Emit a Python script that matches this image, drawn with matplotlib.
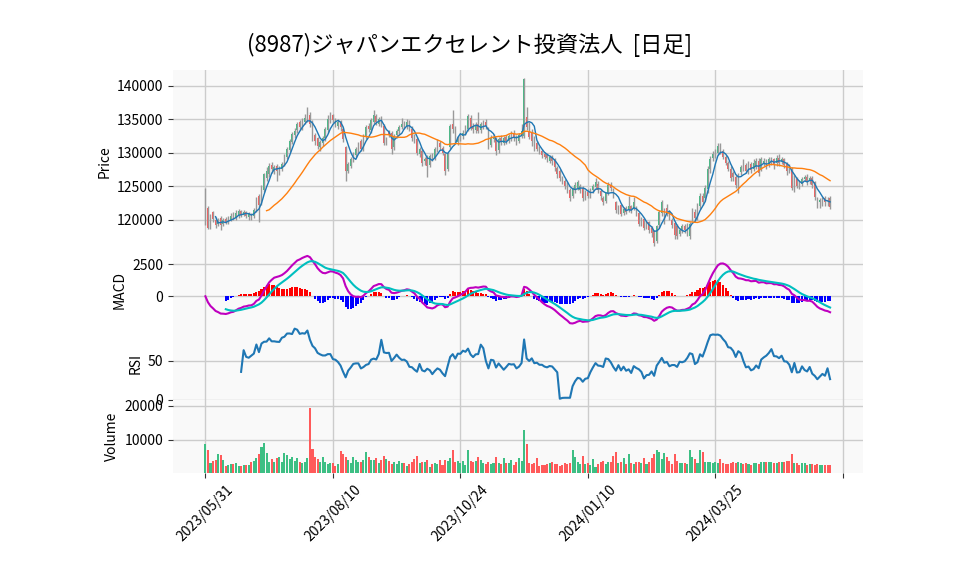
import numpy as np
import pandas as pd
import matplotlib
matplotlib.use("Agg")
import matplotlib.pyplot as plt

plt.rcParams['font.family'] = ['Noto Sans CJK JP', 'DejaVu Sans']

TITLE = "(8987)ジャパンエクセレント投資法人  [日足]"
TICK_POS = [0, 50, 100, 150, 200, 250]
TICK_LABELS = ["2023/05/31", "2023/08/10", "2023/10/24", "2024/01/10", "2024/03/25", ""]

# daily prices, in units of 100 yen
OPEN = [
    1201, 1218, 1189, 1211, 1200, 1193, 1203, 1193, 1201, 1197,
    1200, 1207, 1202, 1206, 1213, 1207, 1211, 1204, 1208, 1205,
    1214, 1236, 1224, 1245, 1262, 1268, 1282, 1273, 1280, 1270,
    1276, 1283, 1293, 1304, 1316, 1326, 1334, 1345, 1337, 1346,
    1350, 1356, 1346, 1326, 1322, 1308, 1314, 1322, 1334, 1348,
    1356, 1349, 1340, 1346, 1335, 1308, 1273, 1280, 1289, 1297,
    1304, 1318, 1306, 1324, 1340, 1334, 1346, 1354, 1343, 1352,
    1340, 1316, 1332, 1330, 1308, 1326, 1332, 1338, 1343, 1340,
    1345, 1336, 1325, 1320, 1298, 1302, 1287, 1292, 1282, 1297,
    1292, 1304, 1315, 1307, 1298, 1275, 1308, 1342, 1336, 1316,
    1321, 1325, 1331, 1336, 1352, 1340, 1334, 1342, 1334, 1341,
    1346, 1336, 1311, 1320, 1320, 1304, 1322, 1315, 1323, 1318,
    1324, 1330, 1324, 1318, 1325, 1325, 1353, 1333, 1330, 1320,
    1315, 1308, 1303, 1298, 1296, 1287, 1294, 1290, 1277, 1273,
    1262, 1258, 1252, 1244, 1236, 1244, 1248, 1244, 1248, 1233,
    1242, 1236, 1244, 1249, 1254, 1243, 1233, 1228, 1240, 1252,
    1245, 1226, 1212, 1222, 1210, 1217, 1214, 1220, 1216, 1217,
    1210, 1194, 1201, 1190, 1196, 1188, 1183, 1168, 1192, 1210,
    1198, 1218, 1213, 1200, 1195, 1190, 1178, 1184, 1191, 1180,
    1176, 1201, 1212, 1204, 1220, 1236, 1232, 1246, 1275, 1292,
    1296, 1300, 1311, 1302, 1294, 1284, 1276, 1270, 1264, 1246,
    1271, 1286, 1281, 1272, 1283, 1276, 1278, 1288, 1276, 1283,
    1287, 1283, 1286, 1290, 1284, 1292, 1286, 1290, 1283, 1280,
    1276, 1246, 1261, 1256, 1253, 1261, 1264, 1258, 1262, 1256,
    1230, 1226, 1226, 1232, 1230, 1232,
]
HIGH = [
    1247, 1220, 1208, 1213, 1204, 1202, 1205, 1203, 1204, 1206,
    1210, 1212, 1214, 1216, 1215, 1214, 1213, 1211, 1210, 1217,
    1234, 1238, 1252, 1270, 1278, 1284, 1286, 1282, 1283, 1280,
    1286, 1298, 1308, 1321, 1331, 1337, 1346, 1348, 1352, 1358,
    1368, 1360, 1348, 1330, 1324, 1319, 1325, 1338, 1356, 1360,
    1358, 1352, 1350, 1348, 1338, 1310, 1286, 1294, 1301, 1309,
    1316, 1320, 1328, 1341, 1344, 1351, 1363, 1358, 1353, 1355,
    1343, 1324, 1334, 1333, 1328, 1336, 1341, 1351, 1347, 1350,
    1348, 1340, 1328, 1324, 1308, 1306, 1294, 1296, 1298, 1300,
    1308, 1320, 1318, 1310, 1300, 1301, 1343, 1363, 1340, 1325,
    1330, 1334, 1341, 1358, 1356, 1344, 1345, 1361, 1346, 1349,
    1350, 1338, 1326, 1328, 1323, 1324, 1326, 1325, 1326, 1328,
    1332, 1334, 1327, 1330, 1342, 1412, 1368, 1345, 1336, 1325,
    1318, 1310, 1306, 1301, 1300, 1297, 1296, 1292, 1280, 1276,
    1265, 1260, 1256, 1248, 1249, 1256, 1259, 1254, 1250, 1244,
    1246, 1248, 1253, 1262, 1257, 1246, 1236, 1242, 1256, 1256,
    1248, 1228, 1222, 1224, 1219, 1220, 1235, 1222, 1234, 1220,
    1212, 1204, 1203, 1198, 1198, 1190, 1185, 1192, 1215, 1229,
    1218, 1224, 1215, 1203, 1197, 1193, 1188, 1194, 1194, 1195,
    1197, 1217, 1216, 1225, 1240, 1240, 1252, 1280, 1295, 1302,
    1306, 1315, 1314, 1306, 1297, 1288, 1280, 1273, 1267, 1269,
    1281, 1290, 1284, 1287, 1286, 1290, 1292, 1292, 1294, 1292,
    1290, 1294, 1293, 1292, 1296, 1298, 1293, 1292, 1286, 1283,
    1279, 1266, 1264, 1259, 1264, 1267, 1268, 1265, 1265, 1258,
    1234, 1233, 1234, 1235, 1234, 1235,
]
LOW = [
    1192, 1186, 1186, 1196, 1188, 1190, 1184, 1190, 1193, 1194,
    1198, 1199, 1200, 1203, 1204, 1205, 1202, 1200, 1200, 1202,
    1212, 1196, 1222, 1242, 1258, 1264, 1270, 1268, 1258, 1266,
    1272, 1280, 1290, 1301, 1313, 1322, 1330, 1334, 1334, 1342,
    1346, 1338, 1318, 1312, 1305, 1303, 1310, 1318, 1330, 1344,
    1344, 1338, 1336, 1333, 1316, 1258, 1270, 1277, 1286, 1294,
    1300, 1302, 1303, 1320, 1331, 1330, 1343, 1341, 1340, 1338,
    1312, 1312, 1324, 1298, 1304, 1322, 1328, 1335, 1336, 1336,
    1332, 1318, 1314, 1296, 1294, 1280, 1282, 1264, 1278, 1288,
    1289, 1301, 1304, 1296, 1266, 1272, 1305, 1330, 1314, 1312,
    1317, 1321, 1327, 1332, 1334, 1330, 1330, 1329, 1330, 1336,
    1336, 1306, 1308, 1316, 1297, 1300, 1312, 1312, 1313, 1314,
    1318, 1318, 1312, 1314, 1322, 1322, 1334, 1320, 1310, 1303,
    1303, 1298, 1292, 1290, 1286, 1284, 1282, 1272, 1262, 1258,
    1253, 1246, 1240, 1228, 1233, 1240, 1244, 1240, 1228, 1229,
    1232, 1232, 1240, 1246, 1240, 1230, 1222, 1225, 1237, 1243,
    1233, 1210, 1208, 1205, 1207, 1208, 1212, 1210, 1214, 1205,
    1190, 1190, 1184, 1186, 1180, 1174, 1161, 1166, 1188, 1206,
    1194, 1206, 1200, 1188, 1172, 1171, 1175, 1180, 1180, 1176,
    1172, 1198, 1198, 1200, 1216, 1222, 1228, 1240, 1270, 1288,
    1292, 1296, 1298, 1290, 1282, 1272, 1258, 1258, 1248, 1240,
    1266, 1272, 1270, 1268, 1270, 1272, 1275, 1265, 1272, 1280,
    1275, 1278, 1282, 1276, 1280, 1280, 1283, 1277, 1266, 1270,
    1244, 1242, 1248, 1246, 1250, 1258, 1252, 1254, 1248, 1230,
    1218, 1218, 1220, 1221, 1220, 1216,
]
CLOSE = [
    1246, 1188, 1196, 1201, 1192, 1199, 1192, 1200, 1196, 1203,
    1206, 1201, 1210, 1213, 1207, 1212, 1205, 1208, 1203, 1215,
    1232, 1222, 1250, 1268, 1272, 1280, 1276, 1279, 1272, 1276,
    1283, 1295, 1305, 1318, 1328, 1333, 1342, 1338, 1348, 1352,
    1357, 1342, 1322, 1318, 1310, 1316, 1322, 1335, 1350, 1355,
    1348, 1342, 1345, 1338, 1320, 1272, 1283, 1291, 1298, 1306,
    1312, 1305, 1325, 1338, 1335, 1348, 1356, 1345, 1350, 1342,
    1315, 1320, 1328, 1306, 1325, 1333, 1338, 1342, 1340, 1346,
    1335, 1322, 1318, 1300, 1305, 1285, 1290, 1280, 1295, 1292,
    1305, 1316, 1308, 1300, 1272, 1298, 1340, 1335, 1318, 1322,
    1326, 1330, 1338, 1354, 1338, 1335, 1340, 1333, 1342, 1345,
    1340, 1310, 1322, 1324, 1302, 1320, 1316, 1322, 1318, 1325,
    1328, 1322, 1318, 1326, 1333, 1410, 1338, 1324, 1318, 1307,
    1306, 1300, 1296, 1293, 1292, 1294, 1287, 1278, 1268, 1262,
    1258, 1250, 1245, 1232, 1246, 1252, 1256, 1250, 1232, 1240,
    1236, 1245, 1250, 1256, 1244, 1235, 1226, 1240, 1252, 1248,
    1236, 1214, 1218, 1208, 1216, 1212, 1221, 1214, 1226, 1209,
    1194, 1200, 1188, 1195, 1185, 1180, 1166, 1190, 1212, 1226,
    1213, 1210, 1203, 1192, 1177, 1176, 1185, 1190, 1184, 1192,
    1194, 1214, 1202, 1222, 1236, 1226, 1248, 1276, 1291, 1298,
    1302, 1310, 1301, 1293, 1285, 1276, 1262, 1263, 1252, 1266,
    1278, 1276, 1273, 1282, 1274, 1285, 1288, 1270, 1290, 1288,
    1279, 1291, 1290, 1281, 1292, 1285, 1290, 1281, 1272, 1274,
    1247, 1263, 1251, 1251, 1261, 1263, 1256, 1262, 1252, 1234,
    1226, 1229, 1231, 1226, 1228, 1219,
]
VOLUME = [
    8800, 7000, 3000, 3700, 4100, 5800, 5400, 3900, 2100, 2500,
    2900, 2900, 3000, 2300, 2300, 2400, 2500, 2500, 3300, 3600,
    4700, 5800, 7700, 9100, 6000, 3500, 4200, 3400, 4700, 5000,
    3500, 5900, 5300, 4200, 5000, 3700, 4500, 3300, 3000, 3500,
    4500, 19400, 7300, 4900, 4200, 3300, 5000, 3500, 2800, 3100,
    3100, 2300, 2800, 6600, 5800, 4900, 3900, 3000, 4900, 4100,
    3500, 3400, 3900, 6400, 4900, 3900, 4000, 4700, 3100, 3900,
    5200, 4200, 3700, 2800, 3500, 2800, 3700, 3000, 3100, 2300,
    2700, 3300, 4200, 5100, 3100, 3300, 3400, 4100, 2000, 2700,
    3000, 2800, 3900, 2400, 4100, 3600, 4600, 6800, 3500, 3700,
    3100, 3800, 2600, 6900, 3700, 3400, 3600, 4900, 4000, 3100,
    2800, 3300, 2800, 3100, 5000, 3100, 2800, 4500, 3000, 3100,
    4100, 2600, 3500, 4700, 3700, 12800, 8800, 3100, 2800, 3100,
    4500, 2300, 2500, 2600, 2800, 3100, 3300, 2900, 2800, 2300,
    2600, 3100, 2700, 3000, 7000, 4800, 3500, 2900, 5100, 2800,
    3000, 2600, 4200, 2000, 2900, 3500, 3700, 2800, 3300, 3500,
    5100, 6300, 3200, 3400, 4700, 2900, 5600, 3100, 2800, 3500,
    3500, 3100, 4500, 2700, 3400, 4700, 5600, 6900, 6300, 4400,
    5900, 4900, 3800, 2900, 5800, 3700, 3100, 3100, 3000, 2900,
    6900, 4800, 4200, 3200, 7000, 6300, 3500, 3500, 3300, 3100,
    3300, 3000, 4200, 3100, 2800, 2800, 3100, 3500, 3100, 3500,
    3100, 2800, 3100, 2800, 2600, 3100, 3000, 2800, 3300, 3400,
    3300, 3400, 3500, 3100, 3000, 3300, 3300, 3500, 3600, 3700,
    5700, 3000, 3100, 2600, 3100, 3000, 2400, 2800, 2900, 2600,
    2700, 2600, 2500, 2600, 2600, 2600,
]

UP = '#3dbf84'
DOWN = '#ff5a5a'
FACE = '#f9f9f9'


def indicators(close):
    s = pd.Series(close)
    ma5 = s.rolling(5).mean()
    ma25 = s.rolling(25).mean()
    macd = s.ewm(span=12, adjust=False).mean() - s.ewm(span=26, adjust=False).mean()
    signal = macd.ewm(span=9, adjust=False).mean()
    signal[:8] = np.nan
    hist = macd - signal
    delta = s.diff()
    gain = delta.clip(lower=0).rolling(14).mean()
    loss = (-delta.clip(upper=0)).rolling(14).mean()
    rsi = 100 * gain / (gain + loss)
    return ma5, ma25, macd, signal, hist, rsi


def style_axis(ax, ylabel):
    ax.set_facecolor(FACE)
    ax.grid(True, color='#cccccc', linewidth=1)
    ax.set_axisbelow(True)
    for sp in ax.spines.values():
        sp.set_visible(False)
    ax.set_ylabel(ylabel, fontsize=10)
    ax.tick_params(axis='y', labelsize=10, length=3.5, color='#333333')


def main():
    o = np.array(OPEN) * 100
    h = np.array(HIGH) * 100
    l = np.array(LOW) * 100
    c = np.array(CLOSE) * 100
    vol = np.array(VOLUME)
    x = np.arange(len(c))
    ma5, ma25, macd, signal, hist, rsi = indicators(c)
    colors = [UP if cc >= oo else DOWN for oo, cc in zip(o, c)]

    fig = plt.figure(figsize=(9.58, 5.75), dpi=100)
    gs = fig.add_gridspec(4, 1, height_ratios=[2.5, 1, 1, 1], hspace=0,
                          left=0.1806, right=0.9008, top=0.878, bottom=0.1774)
    ax1 = fig.add_subplot(gs[0])
    ax2 = fig.add_subplot(gs[1], sharex=ax1)
    ax3 = fig.add_subplot(gs[2], sharex=ax1)
    ax4 = fig.add_subplot(gs[3], sharex=ax1)

    # candles
    ax1.vlines(x, l, h, color='#999999', linewidth=1)
    ax1.bar(x, c - o, bottom=o, width=0.6, color=colors)
    ax1.plot(x, ma5, color='tab:blue', linewidth=1)
    ax1.plot(x, ma25, color='tab:orange', linewidth=1)
    ax1.set_yticks([120000, 125000, 130000, 135000, 140000])
    ax1.set_ylim(115000, 142300)
    style_axis(ax1, 'Price')

    # MACD
    ax2.bar(x, hist, width=0.8, color=['r' if v >= 0 else 'b' for v in hist.fillna(0)])
    ax2.plot(x, macd, color='m', linewidth=1.5)
    ax2.plot(x, signal, color='c', linewidth=1.5)
    ax2.set_yticks([0, 2500])
    ax2.set_ylim(-2350, 3350)
    style_axis(ax2, 'MACD')

    # RSI
    ax3.plot(x, rsi, color='tab:blue', linewidth=1.5)
    ax3.set_yticks([0, 50])
    ax3.set_ylim(0, 94.5)
    style_axis(ax3, 'RSI')

    # volume
    ax4.bar(x, vol, width=0.8, color=colors)
    ax4.set_yticks([10000, 20000])
    ax4.set_ylim(150, 21700)
    style_axis(ax4, 'Volume')

    for ax in (ax1, ax2, ax3):
        ax.tick_params(axis='x', labelbottom=False, length=0)
    ax4.set_xticks(TICK_POS)
    ax4.set_xticklabels(TICK_LABELS, rotation=45, fontsize=10)
    ax4.tick_params(axis='x', length=3.5, color='#333333')
    ax4.set_xlim(-12.7, 257.9)

    fig.text(0.49, 0.922, TITLE, ha='center', va='center', fontsize=16)
    fig.savefig('out.png', dpi=100)


if __name__ == "__main__":
    main()
